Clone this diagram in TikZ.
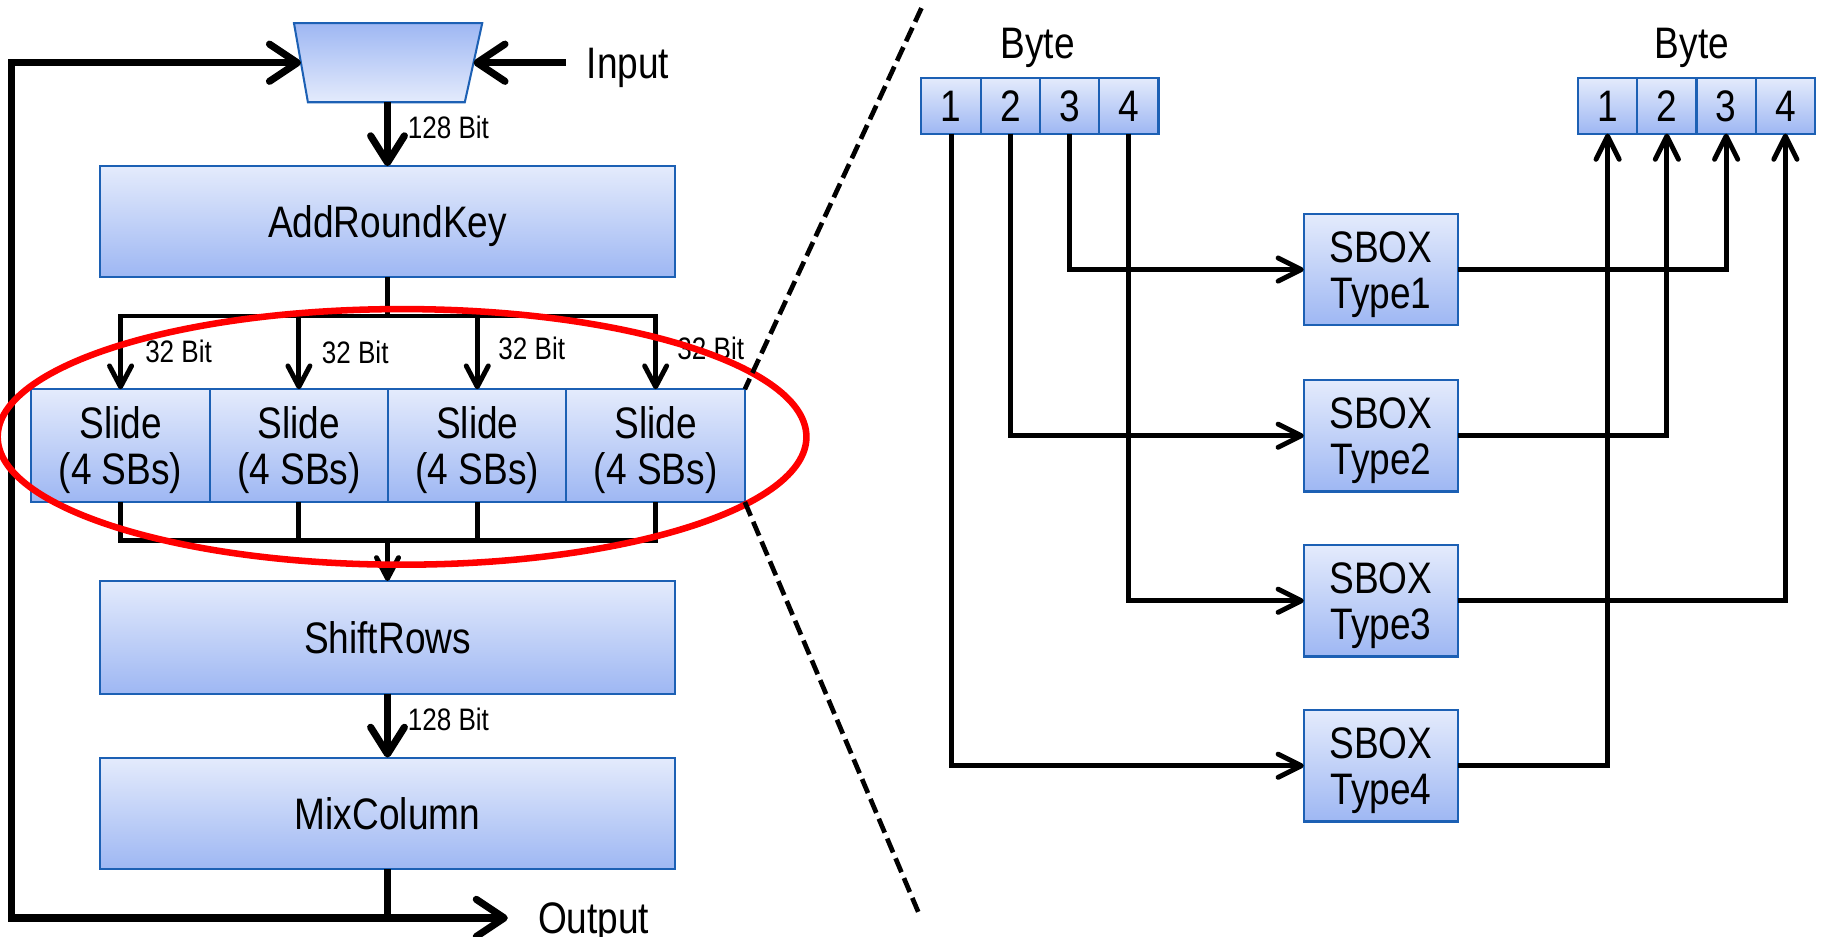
\documentclass[tikz,border=0pt]{standalone}
\usepackage{fontspec}
\setmainfont{Liberation Sans}[FakeStretch=0.84]
\usetikzlibrary{arrows.meta,calc}

\definecolor{boxtop}{RGB}{228,235,252}
\definecolor{boxbot}{RGB}{158,183,243}
\definecolor{boxline}{RGB}{28,96,180}
\definecolor{ringred}{RGB}{255,0,0}

\newcommand\lbl{\fontsize{10.8pt}{11.2pt}\selectfont}
\newcommand\sml{\fontsize{7.6pt}{9pt}\selectfont}

\begin{document}
\begin{tikzpicture}[x=0.1mm,y=-0.1mm,
  every node/.style={inner sep=0pt, outer sep=0pt},
  blk/.style={draw=boxline, line width=0.5pt, top color=boxtop, bottom color=boxbot,
              align=center, font=\lbl, text height=7.8pt, text depth=0pt},
  % two-line labels: height covers the first line plus one line of spacing
  twoline/.style={text height=19pt, text depth=0pt},
  widebox/.style={blk, minimum width=49.5mm},
  slidebox/.style={blk, twoline, minimum width=15.35mm, minimum height=9.7mm},
  sboxbox/.style={blk, twoline, minimum width=13.3mm, minimum height=9.6mm},
  cellbox/.style={blk, minimum width=5.1mm, minimum height=4.8mm},
  heavy/.style={line width=1.75pt},
  bus/.style={line width=1.2pt},
  bigtip/.style={-{Straight Barb[length=2.4mm,width=3.2mm,round]}},
  midtip/.style={-{Straight Barb[length=2.3mm,width=2.9mm,round]}},
  smalltip/.style={-{Straight Barb[length=1.8mm,width=1.9mm,round]}},
  wiretip/.style={-{Straight Barb[length=2.0mm,width=2.0mm,round]}},
]
\useasboundingbox (0,0) rectangle (1568,806);

% ---------------- round datapath ----------------
% input multiplexer (inverted trapezoid)
\path[draw=boxline, line width=0.5pt, top color=boxbot, bottom color=boxtop]
  (253,20) -- (415,20) -- (400,88) -- (265,88) -- cycle;
\coordinate (muxL) at (259,54);
\coordinate (muxR) at (407.5,54);
\coordinate (muxS) at (333.5,88);

\node[widebox, minimum height=9.5mm] (ark) at (333.5,190.5) {AddRoundKey};

\foreach \i in {1,...,4}
  \node[slidebox] (s\i) at ({27+153.5*(\i-0.5)},383.5) {Slide\\(4 SBs)};

\node[widebox, minimum height=9.7mm] (sr) at (333.5,548.5) {ShiftRows};
\node[widebox, minimum height=9.6mm] (mc) at (333.5,700) {MixColumn};

\coordinate (splitY) at (333.5,272);
\coordinate (mergeY) at (333.5,465);
\coordinate (lb) at (10,790);
\coordinate (outEnd) at (437,790);
\coordinate (inStart) at (487,54);

% input, feedback loop and output
\node[font=\lbl, anchor=base west] (inlbl) at (505,68) {Input};
\node[font=\lbl, anchor=base west] (outlbl) at (463,803) {Output};
\draw[heavy, bigtip] (inStart) -- (muxR);
\draw[heavy, {Straight Barb[length=2.4mm,width=3.2mm,round]}-{Straight Barb[length=2.4mm,width=3.2mm,round]}]
  (outEnd) -- (lb) |- (muxL);
\draw[heavy] (mc.south) -- (mc.south |- lb);

% 128 bit links
\draw[heavy, midtip] (muxS) -- (ark.north);
\node[font=\sml, anchor=base west] (w1) at (351,119) {128 Bit};
\draw[heavy, midtip] (sr.south) -- (mc.north);
\node[font=\sml, anchor=base west] (w2) at (351,629) {128 Bit};

% split into four 32 bit slices
\draw[bus] (ark.south) -- (splitY);
\draw[bus, {Straight Barb[length=1.8mm,width=1.9mm,round]}-{Straight Barb[length=1.8mm,width=1.9mm,round]}]
  (s1.north) |- (splitY) -| (s4.north);
\draw[bus, smalltip] (s2.north |- splitY) -- (s2.north);
\draw[bus, smalltip] (s3.north |- splitY) -- (s3.north);
\node[font=\sml, anchor=base west] (b1) at (125,312) {32 Bit};
\node[font=\sml, anchor=base west] (b2) at (277,313) {32 Bit};
\node[font=\sml, anchor=base west] (b3) at (429,309) {32 Bit};
\node[font=\sml, anchor=base west] (b4) at (583,309) {32 Bit};

% merge the slices
\draw[bus] (s1.south) |- (mergeY) -| (s4.south);
\draw[bus] (s2.south) -- (s2.south |- mergeY);
\draw[bus] (s3.south) -- (s3.south |- mergeY);
\draw[bus, smalltip] (mergeY) -- (sr.north);

% highlight of the slice layer
\draw[ringred, line width=1.6pt] (346,376) ellipse [x radius=34.8mm, y radius=11mm];

% zoom lines towards the detail view
\coordinate (dtop) at (793,7);
\coordinate (dbot) at (792,789);
\draw[line width=1.15pt, dash pattern=on 1.3mm off 0.55mm] (dtop) -- (s4.north east);
\draw[line width=1.15pt, dash pattern=on 1.3mm off 0.55mm] (s4.south east) -- (dbot);

% ---------------- slide detail ----------------
\node[font=\lbl, anchor=base] (bytein) at (893,50) {Byte};
\node[font=\lbl, anchor=base] (byteout) at (1456,50) {Byte};
\foreach \i in {1,...,4} {
  \node[cellbox] (lb\i) at ({793+51*(\i-0.5)},91) {\i};
  \node[cellbox] (rb\i) at ({1358+51*(\i-0.5)},91) {\i};
}
\node[sboxbox] (sb1) at (1188.5,232) {SBOX\\Type1};
\node[sboxbox] (sb2) at (1188.5,375) {SBOX\\Type2};
\node[sboxbox] (sb3) at (1188.5,517) {SBOX\\Type3};
\node[sboxbox] (sb4) at (1188.5,659) {SBOX\\Type4};

\draw[bus, wiretip] (lb3.south) |- (sb1.west);
\draw[bus, wiretip] (lb2.south) |- (sb2.west);
\draw[bus, wiretip] (lb4.south) |- (sb3.west);
\draw[bus, wiretip] (lb1.south) |- (sb4.west);

\draw[bus, wiretip] (sb1.east) -| (rb3.south);
\draw[bus, wiretip] (sb2.east) -| (rb2.south);
\draw[bus, wiretip] (sb3.east) -| (rb4.south);
\draw[bus, wiretip] (sb4.east) -| (rb1.south);
\end{tikzpicture}
\end{document}
